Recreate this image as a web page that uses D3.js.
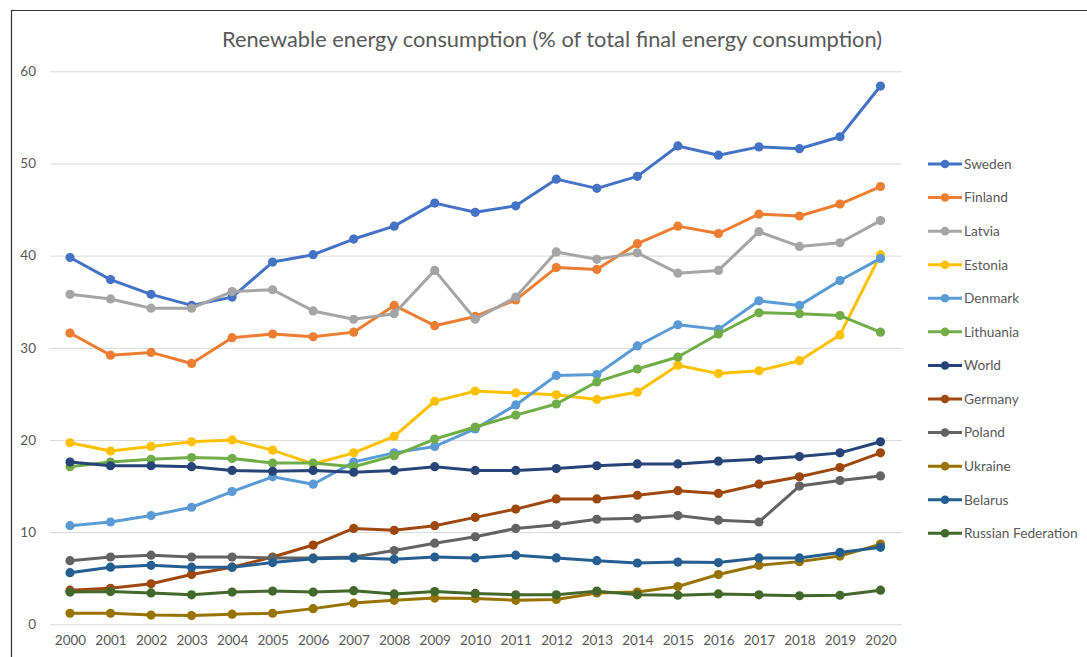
<!DOCTYPE html>
<html>
<head>
<meta charset="utf-8">
<script src="https://cdn.jsdelivr.net/npm/d3@7"></script>
<style>
  body { margin: 0; background: #fff; }
  svg { display: block; font-family: Lato, "Open Sans", sans-serif; }
</style>
</head>
<body>
<svg id="chart" width="1087" height="657"></svg>
<script>
// data
const years = d3.range(2000, 2021);
const yTicks = [0, 10, 20, 30, 40, 50, 60];

const sweden    = [39.8, 37.4, 35.8, 34.6, 35.5, 39.3, 40.1, 41.8, 43.2, 45.7, 44.7, 45.4, 48.3, 47.3, 48.6, 51.9, 50.9, 51.8, 51.6, 52.9, 58.4];
const finland   = [31.6, 29.2, 29.5, 28.3, 31.1, 31.5, 31.2, 31.7, 34.6, 32.4, 33.4, 35.2, 38.7, 38.5, 41.3, 43.2, 42.4, 44.5, 44.3, 45.6, 47.5];
const latvia    = [35.8, 35.3, 34.3, 34.3, 36.1, 36.3, 34.0, 33.1, 33.7, 38.4, 33.1, 35.5, 40.4, 39.6, 40.3, 38.1, 38.4, 42.6, 41.0, 41.4, 43.8];
const estonia   = [19.7, 18.8, 19.3, 19.8, 20.0, 18.9, 17.4, 18.6, 20.4, 24.2, 25.3, 25.1, 24.9, 24.4, 25.2, 28.1, 27.2, 27.5, 28.6, 31.4, 40.1];
const denmark   = [10.7, 11.1, 11.8, 12.7, 14.4, 16.0, 15.2, 17.6, 18.6, 19.3, 21.2, 23.8, 27.0, 27.1, 30.2, 32.5, 32.0, 35.1, 34.6, 37.3, 39.7];
const lithuania = [17.1, 17.6, 17.9, 18.1, 18.0, 17.5, 17.5, 17.1, 18.3, 20.1, 21.4, 22.7, 23.9, 26.3, 27.7, 29.0, 31.5, 33.8, 33.7, 33.5, 31.7];
const world     = [17.6, 17.2, 17.2, 17.1, 16.7, 16.6, 16.7, 16.5, 16.7, 17.1, 16.7, 16.7, 16.9, 17.2, 17.4, 17.4, 17.7, 17.9, 18.2, 18.6, 19.8];
const germany   = [3.7, 3.9, 4.4, 5.4, 6.2, 7.3, 8.6, 10.4, 10.2, 10.7, 11.6, 12.5, 13.6, 13.6, 14.0, 14.5, 14.2, 15.2, 16.0, 17.0, 18.6];
const poland    = [6.9, 7.3, 7.5, 7.3, 7.3, 7.2, 7.2, 7.3, 8.0, 8.8, 9.5, 10.4, 10.8, 11.4, 11.5, 11.8, 11.3, 11.1, 15.0, 15.6, 16.1];
const ukraine   = [1.2, 1.2, 1.0, 0.95, 1.1, 1.2, 1.7, 2.3, 2.6, 2.85, 2.8, 2.6, 2.7, 3.4, 3.5, 4.1, 5.4, 6.4, 6.8, 7.4, 8.7];
const belarus   = [5.6, 6.2, 6.4, 6.2, 6.2, 6.7, 7.1, 7.2, 7.05, 7.3, 7.2, 7.5, 7.2, 6.9, 6.65, 6.75, 6.7, 7.2, 7.2, 7.8, 8.35];
const russia    = [3.5, 3.55, 3.4, 3.2, 3.5, 3.6, 3.5, 3.65, 3.3, 3.55, 3.35, 3.2, 3.2, 3.6, 3.2, 3.15, 3.3, 3.2, 3.1, 3.15, 3.7];

const names  = ["Sweden", "Finland", "Latvia", "Estonia", "Denmark", "Lithuania", "World", "Germany", "Poland", "Ukraine", "Belarus", "Russian Federation"];
const values = [sweden, finland, latvia, estonia, denmark, lithuania, world, germany, poland, ukraine, belarus, russia];
const colors = ["#4472C4", "#ED7D31", "#A5A5A5", "#FFC000", "#5B9BD5", "#70AD47", "#264478", "#9E480E", "#636363", "#997300", "#255E91", "#43682B"];

const svg = d3.select("#chart");

// frame (top and left edges visible)
svg.append("path")
  .attr("d", "M11.5,1087 V10.5 H1087")
  .attr("fill", "none")
  .attr("stroke", "#333")
  .attr("stroke-width", 1.2);

svg.append("text")
  .attr("x", 552)
  .attr("y", 47)
  .attr("text-anchor", "middle")
  .attr("fill", "#595959")
  .attr("font-size", 21.8)
  .text("Renewable energy consumption (% of total final energy consumption)");

const x = d3.scalePoint()
  .domain(years)
  .range([70, 880.5]);

const y = d3.scaleLinear()
  .domain([0, 60])
  .range([624.3, 71.3]);

// y grid and labels
const yAxis = svg.append("g")
  .attr("transform", "translate(50,0)")
  .call(d3.axisLeft(y).tickValues(yTicks).tickSize(-852).tickPadding(14));
yAxis.select(".domain").remove();
yAxis.selectAll(".tick line").attr("stroke", "#d9d9d9").attr("stroke-width", 1);
yAxis.selectAll(".tick text")
  .attr("fill", "#595959")
  .attr("font-size", 13.5)
  .attr("font-family", "Lato, sans-serif");

// x labels
const xAxis = svg.append("g")
  .attr("transform", "translate(0,624.3)")
  .call(d3.axisBottom(x).tickSize(0).tickPadding(11));
xAxis.select(".domain").remove();
xAxis.selectAll(".tick text")
  .attr("fill", "#595959")
  .attr("font-size", 13.5)
  .attr("font-family", "Lato, sans-serif");

const line = d3.line()
  .x(function (d, i) { return x(years[i]); })
  .y(function (d) { return y(d); });

values.forEach(function (vals, s) {
  const g = svg.append("g");
  g.append("path")
    .datum(vals)
    .attr("fill", "none")
    .attr("stroke", colors[s])
    .attr("stroke-width", 3)
    .attr("stroke-linejoin", "round")
    .attr("stroke-linecap", "round")
    .attr("d", line);
  g.selectAll("circle")
    .data(vals)
    .join("circle")
    .attr("cx", function (d, i) { return x(years[i]); })
    .attr("cy", function (d) { return y(d); })
    .attr("r", 4.6)
    .attr("fill", colors[s]);
});

// legend
const legendY = d3.scalePoint()
  .domain(names)
  .range([164, 533.3]);

const legend = svg.append("g");
names.forEach(function (name, s) {
  const ly = legendY(name);
  legend.append("line")
    .attr("x1", 928).attr("x2", 962)
    .attr("y1", ly).attr("y2", ly)
    .attr("stroke", colors[s])
    .attr("stroke-width", 3);
  legend.append("circle")
    .attr("cx", 945).attr("cy", ly)
    .attr("r", 4.3)
    .attr("fill", colors[s]);
  legend.append("text")
    .attr("x", 964)
    .attr("y", ly)
    .attr("dy", "0.35em")
    .attr("fill", "#595959")
    .attr("font-size", 13.7)
    .text(name);
});
</script>
</body>
</html>
